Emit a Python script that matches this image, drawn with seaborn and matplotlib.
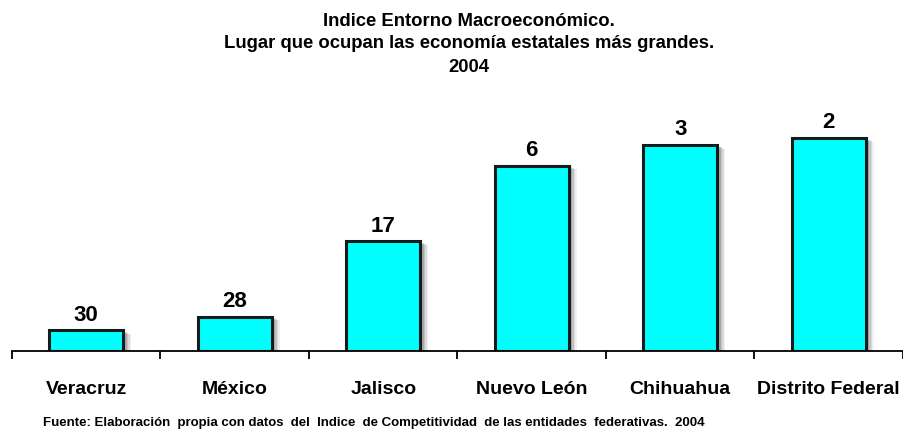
import matplotlib
matplotlib.use("Agg")
import matplotlib.pyplot as plt
import matplotlib.patheffects as pe
import seaborn as sns
import pandas as pd

# ---- data ----
states = ["Veracruz", "México", "Jalisco", "Nuevo León", "Chihuahua", "Distrito Federal"]
ranks = [30, 28, 17, 6, 3, 2]          # labels shown over bars (place occupied)
heights = [3, 5, 16, 27, 30, 31]       # bar heights (score)

title_lines = ["Indice Entorno Macroeconómico.",
               "Lugar que ocupan las economía estatales más grandes.",
               "2004"]
source = ("Fuente: Elaboración  propia con datos  del  Indice  de Competitividad  "
          "de las entidades  federativas.  2004")

df = pd.DataFrame({"estado": states, "valor": heights, "lugar": ranks})

sns.set_theme(style="white")
plt.rcParams["font.family"] = ["Liberation Sans", "DejaVu Sans"]
plt.rcParams["text.color"] = "black"
plt.rcParams["xtick.color"] = "black"

W, H = 904, 431
fig = plt.figure(figsize=(W / 100, H / 100), dpi=100)
ax = fig.add_axes([12 / W, (H - 352) / H, 891 / W, 252 / H])

sns.barplot(data=df, x="estado", y="valor", ax=ax, color="#00FFFF",
            width=0.5, edgecolor="#121c1c", linewidth=2.2, saturation=1)

shadow = []
for k, a in [(5.5, 0.08), (4.5, 0.12), (3.5, 0.16), (2.5, 0.2)]:
    shadow.append(pe.SimplePatchShadow(offset=(k, -k * 0.5), shadow_rgbFace="#444444", alpha=a))
for p in ax.patches:
    p.set_path_effects(shadow + [pe.Normal()])

for i, (h, r) in enumerate(zip(heights, ranks)):
    ax.annotate(str(r), (i, h), xytext=(0, 4), textcoords="offset points",
                ha="center", va="bottom", fontsize=16, fontweight="bold", color="black")

ax.set_ylim(0, 36.68)
ax.set_xlim(-0.5, len(states) - 0.5)
ax.set_xlabel("")
ax.set_ylabel("")
ax.set_yticks([])
for s in ["top", "left", "right"]:
    ax.spines[s].set_visible(False)
ax.spines["bottom"].set_color("black")
ax.spines["bottom"].set_linewidth(1.3)

ax.set_xticks(range(len(states)))
ax.set_xticklabels(states, fontsize=14, fontweight="bold", color="black")
ax.tick_params(axis="x", which="major", length=0, pad=21)
ax.set_xticks([i - 0.5 for i in range(len(states) + 1)], minor=True)
ax.tick_params(axis="x", which="minor", length=6, width=1.3, direction="out", color="black", bottom=True)

for k, line in enumerate(title_lines):
    fig.text(469 / W, 1 - (21 + 23 * k) / H, line, ha="center", va="center",
             fontsize=13.3, fontweight="bold", color="black")

fig.text(43 / W, 1 - 423 / H, source, ha="left", va="center", fontsize=9.5,
         fontweight="bold", color="black")

fig.savefig("out.png", dpi=100, facecolor="white")
